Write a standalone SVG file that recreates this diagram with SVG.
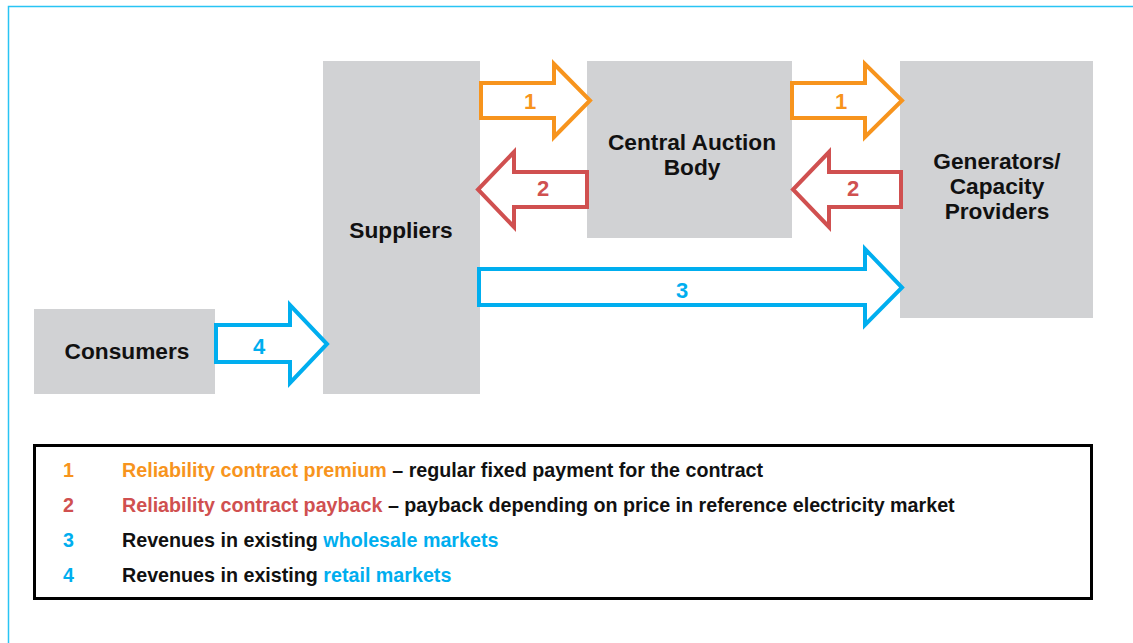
<svg xmlns="http://www.w3.org/2000/svg" width="1133" height="643" viewBox="0 0 1133 643">
<style>
.node{fill:#D1D2D4}
.lbl{font-family:"Liberation Sans",Arial,sans-serif;font-weight:bold;font-size:22.7px;fill:#111;text-anchor:middle}
.arr{fill:#fff;stroke-width:4;stroke-linejoin:miter}
.num{font-family:"Liberation Sans",Arial,sans-serif;font-weight:bold;font-size:22px;text-anchor:middle}
.leg{font-family:"Liberation Sans",Arial,sans-serif;font-weight:bold;font-size:19.7px;fill:#111}
.o{fill:#F7941D}.r{fill:#D05050}.b{fill:#00AEEF}
</style>
<rect width="1133" height="643" fill="#fff"/>
<path d="M8.5 643V6.5H1133" fill="none" stroke="#29C4F4" stroke-width="1.5"/>
<g id="consumers"><rect class="node" x="34" y="309" width="181" height="85"/><text class="lbl" x="127" y="359">Consumers</text></g>
<g id="suppliers"><rect class="node" x="323" y="61" width="157" height="333"/><text class="lbl" x="401" y="238">Suppliers</text></g>
<g id="central"><rect class="node" x="587" y="61" width="205" height="177"/><text class="lbl" x="692" y="150">Central Auction</text><text class="lbl" x="692" y="175">Body</text></g>
<g id="generators"><rect class="node" x="900" y="61" width="193" height="257"/><text class="lbl" x="997" y="169">Generators/</text><text class="lbl" x="997" y="194">Capacity</text><text class="lbl" x="997" y="219">Providers</text></g>
<g id="connectors">
<path class="arr" stroke="#F7941D" d="M481 83H554V64L590 100.5L554 137V118H481Z"/>
<text class="num o" x="530" y="109">1</text>
<path class="arr" stroke="#D05050" d="M587 172H514V152L478 189.5L514 227V207H587Z"/>
<text class="num r" x="543" y="196">2</text>
<path class="arr" stroke="#F7941D" d="M792 83H865V64L902 100.5L865 137V118H792Z"/>
<text class="num o" x="841" y="109">1</text>
<path class="arr" stroke="#D05050" d="M901 172H829V152L793 189.5L829 227V207H901Z"/>
<text class="num r" x="853" y="196">2</text>
<path class="arr" stroke="#00AEEF" d="M479 269H865V249L902 287.5L865 325V305H479Z"/>
<text class="num b" x="682" y="298">3</text>
<path class="arr" stroke="#00AEEF" d="M216 325H290V305L327 344L290 383V362H216Z"/>
<text class="num b" x="259" y="354">4</text>
</g>
<g id="legend">
<rect x="34.5" y="445.5" width="1057" height="153" fill="#fff" stroke="#000" stroke-width="3"/>
<text class="leg o" x="63" y="477">1</text>
<text class="leg" x="122" y="477"><tspan class="o">Reliability contract premium</tspan> – regular fixed payment for the contract</text>
<text class="leg r" x="63" y="512">2</text>
<text class="leg" x="122" y="512"><tspan class="r">Reliability contract payback</tspan> – payback depending on price in reference electricity market</text>
<text class="leg b" x="63" y="547">3</text>
<text class="leg" x="122" y="547">Revenues in existing <tspan class="b">wholesale markets</tspan></text>
<text class="leg b" x="63" y="582">4</text>
<text class="leg" x="122" y="582">Revenues in existing <tspan class="b">retail markets</tspan></text>
</g>
</svg>
